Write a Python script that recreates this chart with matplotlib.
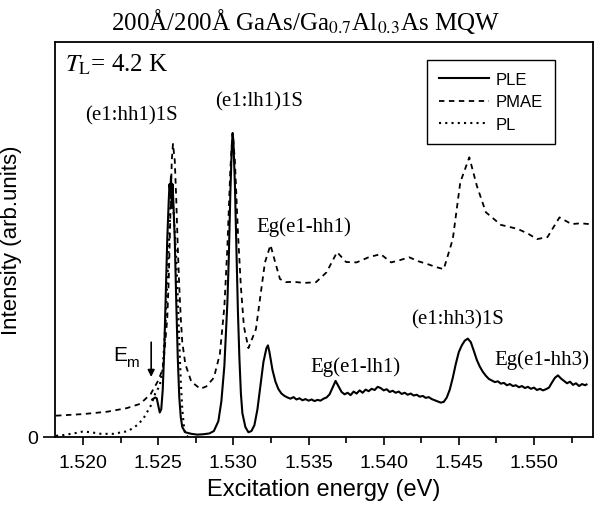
import numpy as np
import matplotlib
matplotlib.use("Agg")
import matplotlib.pyplot as plt
from matplotlib.ticker import MultipleLocator

plt.rcParams['mathtext.fontset'] = 'stix'

# ---- data (intensity in arb. units, 0 = axis) ----
ple_energy = [1.5246, 1.5248, 1.5249, 1.5250, 1.5251, 1.5252, 1.5253, 1.5254, 1.5255, 1.5256,
              1.5257, 1.52575, 1.5258, 1.52585, 1.5259, 1.52595, 1.5260, 1.5261, 1.5262, 1.5263,
              1.5264, 1.5265, 1.5266, 1.5268, 1.5272, 1.5276, 1.5280, 1.5284, 1.5287, 1.5290,
              1.5292, 1.5294, 1.5296, 1.5297, 1.5298, 1.5299, 1.52995, 1.5300, 1.5301, 1.5302,
              1.5303, 1.5304, 1.5305, 1.5306, 1.5308, 1.5310, 1.5312, 1.5314, 1.5316, 1.5318,
              1.5320, 1.5322, 1.5323, 1.5324, 1.5326, 1.5328,
              1.5330, 1.5332, 1.5334, 1.5336, 1.5338, 1.5340, 1.5342, 1.5344, 1.5346, 1.5348,
              1.5350, 1.5352, 1.5354, 1.5356, 1.5358, 1.5360, 1.5362, 1.5364, 1.5366, 1.5368,
              1.5370, 1.5372, 1.5374, 1.5376, 1.5378, 1.5380, 1.5382, 1.5384, 1.5386, 1.5388,
              1.5390, 1.5392, 1.5394, 1.5396, 1.5398, 1.5400, 1.5402, 1.5404, 1.5406, 1.5408,
              1.5410, 1.5412, 1.5414, 1.5416, 1.5418, 1.5420, 1.5422, 1.5424, 1.5426, 1.5428,
              1.5430, 1.5432, 1.5434, 1.5436, 1.5438, 1.5440, 1.5442, 1.5444, 1.5446, 1.5448,
              1.5450, 1.5452, 1.5454, 1.5456, 1.5458, 1.5460, 1.5462, 1.5464, 1.5466, 1.5468,
              1.5470, 1.5472, 1.5474, 1.5476, 1.5478, 1.5480, 1.5482, 1.5484, 1.5486, 1.5488,
              1.5490, 1.5492, 1.5494, 1.5496, 1.5498, 1.5500, 1.5502, 1.5504, 1.5506, 1.5508,
              1.5510, 1.5512, 1.5514, 1.5516, 1.5518, 1.5520, 1.5522, 1.5524, 1.5526, 1.5528,
              1.5530, 1.5532, 1.5534, 1.5535]
ple_intensity = [0.095, 0.100, 0.098, 0.080, 0.062, 0.070, 0.120, 0.220, 0.360, 0.500,
                 0.600, 0.640, 0.620, 0.660, 0.580, 0.640, 0.600, 0.500, 0.340, 0.200,
                 0.100, 0.050, 0.025, 0.012, 0.008, 0.006, 0.007, 0.009, 0.015, 0.040,
                 0.090, 0.180, 0.340, 0.460, 0.620, 0.740, 0.768, 0.750, 0.640, 0.480,
                 0.320, 0.200, 0.110, 0.060, 0.025, 0.012, 0.015, 0.030, 0.070, 0.130,
                 0.190, 0.225, 0.232, 0.215, 0.170, 0.140,
                 0.121, 0.110, 0.104, 0.100, 0.097, 0.101, 0.095, 0.098, 0.093, 0.096,
                 0.092, 0.095, 0.091, 0.094, 0.092, 0.097, 0.100, 0.108, 0.125, 0.142,
                 0.128, 0.114, 0.108, 0.112, 0.106, 0.115, 0.110, 0.118, 0.112, 0.120,
                 0.116, 0.122, 0.119, 0.127, 0.124, 0.118, 0.121, 0.114, 0.117, 0.112,
                 0.115, 0.109, 0.112, 0.107, 0.110, 0.105, 0.107, 0.102, 0.104, 0.099,
                 0.101, 0.096, 0.093, 0.090, 0.087, 0.089, 0.100, 0.120, 0.150, 0.185,
                 0.215, 0.232, 0.244, 0.249, 0.240, 0.218, 0.195, 0.178, 0.165, 0.155,
                 0.147, 0.143, 0.139, 0.141, 0.135, 0.137, 0.131, 0.134, 0.129, 0.131,
                 0.126, 0.129, 0.124, 0.127, 0.122, 0.125, 0.119, 0.122, 0.118, 0.121,
                 0.125, 0.138, 0.150, 0.156, 0.148, 0.142, 0.136, 0.140, 0.132, 0.136,
                 0.129, 0.134, 0.131, 0.133]

pmae_energy = [1.5182, 1.5200, 1.5216, 1.5229, 1.5238, 1.5245, 1.5250, 1.5253, 1.5254, 1.5256,
               1.5257, 1.5258, 1.5259, 1.52598, 1.5261, 1.5262, 1.5263, 1.5264, 1.5265, 1.5266,
               1.5268, 1.5272, 1.5278, 1.5282, 1.5287, 1.5291, 1.5294, 1.5296, 1.5298, 1.52995,
               1.5301, 1.5303, 1.5305, 1.5307, 1.5310, 1.5315, 1.5318, 1.5321, 1.53247, 1.5328,
               1.5331, 1.5335, 1.5340, 1.5347, 1.5355, 1.5362, 1.5369, 1.5375, 1.5382, 1.5390,
               1.5398, 1.5405, 1.5411, 1.5417, 1.5423, 1.5429, 1.5435, 1.5440, 1.5446, 1.5451,
               1.5457, 1.5462, 1.5468, 1.5478, 1.5489, 1.5496, 1.5502, 1.5509, 1.5517, 1.5525,
               1.5531, 1.5537]
pmae_intensity = [0.054, 0.058, 0.064, 0.073, 0.084, 0.109, 0.143, 0.172, 0.210, 0.300,
                  0.400, 0.550, 0.700, 0.742, 0.700, 0.600, 0.480, 0.380, 0.300, 0.240,
                  0.185, 0.140, 0.122, 0.128, 0.150, 0.210, 0.330, 0.480, 0.680, 0.770,
                  0.700, 0.520, 0.380, 0.280, 0.225, 0.273, 0.358, 0.442, 0.486, 0.440,
                  0.400, 0.392, 0.393, 0.390, 0.392, 0.417, 0.468, 0.443, 0.442, 0.455,
                  0.463, 0.442, 0.448, 0.455, 0.445, 0.438, 0.430, 0.425, 0.501, 0.645,
                  0.708, 0.636, 0.569, 0.537, 0.527, 0.515, 0.501, 0.506, 0.556, 0.539,
                  0.541, 0.539]

pl_energy = [1.5182, 1.5187, 1.5195, 1.5200, 1.5205, 1.5212, 1.5220, 1.5230, 1.5236, 1.5240,
             1.5245, 1.5248, 1.5251, 1.5253, 1.5255, 1.5257, 1.5258, 1.5259, 1.5260, 1.5261,
             1.5262, 1.5263, 1.5264, 1.5265, 1.5266, 1.5267, 1.5268, 1.5270]
pl_intensity = [0.003, 0.005, 0.010, 0.014, 0.012, 0.008, 0.008, 0.015, 0.030, 0.046,
                0.079, 0.110, 0.130, 0.172, 0.300, 0.480, 0.580, 0.620, 0.580, 0.520,
                0.450, 0.350, 0.240, 0.140, 0.070, 0.030, 0.005, 0.0]

labels = ['PLE', 'PMAE', 'PL']
xticks = [1.520, 1.525, 1.530, 1.535, 1.540, 1.545, 1.550]

serif = 'Liberation Serif'
sans = 'Liberation Sans'

fig = plt.figure(figsize=(5.98, 5.10), dpi=100)
ax = fig.add_axes([55 / 598, 72 / 510, 538 / 598, 395 / 510])

ax.plot(ple_energy, ple_intensity, color='black', lw=1.5, label=labels[0])
ax.plot(pmae_energy, pmae_intensity, color='black', lw=1.3, ls=(0, (3, 2.5)), label=labels[1])
ax.plot(pl_energy, pl_intensity, color='black', lw=1.5, ls=(0, (1, 2)), label=labels[2])

ax.set_xlim(1.51813, 1.55393)
ax.set_ylim(0, 1.0)
ax.set_xticks(xticks)
ax.set_xticklabels([f'{t:.3f}' for t in xticks], fontfamily=sans, fontsize=14)
ax.xaxis.set_minor_locator(MultipleLocator(0.0025))
ax.set_yticks([0])
ax.set_yticklabels(['0'], fontfamily=sans, fontsize=14)
ax.tick_params(axis='x', which='major', direction='out', length=6, width=1.2, pad=6)
ax.tick_params(axis='x', which='minor', direction='out', length=4, width=1.2)
ax.tick_params(axis='y', which='major', direction='out', length=9, width=1.2, pad=3)
for s in ax.spines.values():
    s.set_linewidth(1.3)

ax.set_xlabel('Excitation energy (eV)', fontfamily=sans, fontsize=17, labelpad=5)
ax.set_ylabel('Intensity (arb.units)', fontfamily=sans, fontsize=16)
ax.yaxis.set_label_coords(-0.062, 0.5)

fig.text(305 / 598, 488 / 510, '200Å/200Å GaAs/Ga$_{0.7}$Al$_{0.3}$As MQW',
         fontfamily=serif, fontsize=18, ha='center', va='center')

ax.text(1.5188, 0.944, r'$T_{\mathrm{L}}$= 4.2 K', fontfamily=serif, fontsize=18,
        ha='left', va='center')

ann = dict(fontfamily=serif, fontsize=15, ha='center', va='center')
ax.text(1.5232, 0.815, '(e1:hh1)1S', **ann)
ax.text(1.5317, 0.850, '(e1:lh1)1S', **ann)
ax.text(1.5347, 0.535, 'Eg(e1-hh1)', **ann)
ax.text(1.5381, 0.180, 'Eg(e1-lh1)', **ann)
ax.text(1.5449, 0.299, '(e1:hh3)1S', **ann)
ax.text(1.5505, 0.197, 'Eg(e1-hh3)', **ann)

# E_m marker: sans "E" with an upright sans subscript "m"
ax.text(1.52297, 0.210, 'E', fontfamily=sans, fontsize=15, ha='right', va='center')
ax.annotate('m', xy=(1.52297, 0.210), xytext=(-1, -6), textcoords='offset points',
            fontfamily=sans, fontsize=11, ha='left', va='center')
ax.annotate('', xy=(1.52453, 0.152), xytext=(1.52453, 0.240),
            arrowprops=dict(arrowstyle='-|>', color='black', lw=1.2,
                            mutation_scale=10, shrinkA=0, shrinkB=0))

leg = ax.legend(loc='upper right', bbox_to_anchor=(0.944, 0.975), frameon=True,
                fancybox=False, edgecolor='black', framealpha=1,
                prop={'family': sans, 'size': 12}, handlelength=3.0,
                handletextpad=0.4, labelspacing=0.45, borderpad=0.7)
leg.get_frame().set_linewidth(1.0)

fig.savefig('out.png', dpi=100)
